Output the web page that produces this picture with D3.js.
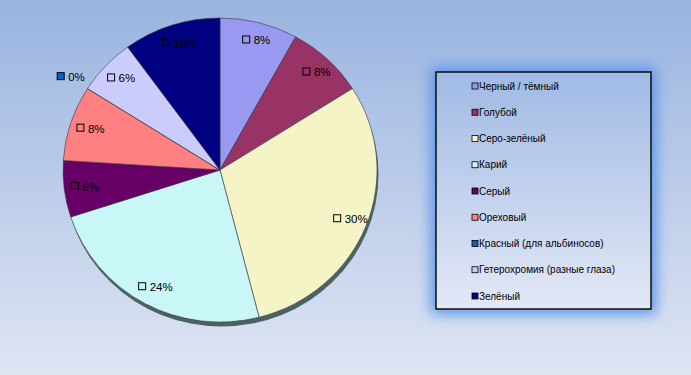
<!DOCTYPE html>
<html>
<head>
<meta charset="utf-8">
<script src="https://cdn.jsdelivr.net/npm/d3@7/dist/d3.min.js"></script>
<style>
  html, body { margin: 0; padding: 0; }
  svg { display: block; font-family: Arial, "Liberation Sans", sans-serif; }
</style>
</head>
<body>
<svg id="chart" width="691" height="375"></svg>
<script>
// eye colour survey, share of answers in %
const categories = [
  'Черный / тёмный',
  'Голубой',
  'Серо-зелёный',
  'Карий',
  'Серый',
  'Ореховый',
  'Красный (для альбиносов)',
  'Гетерохромия (разные глаза)',
  'Зелёный',
];
const values = [8, 8, 30, 24, 6, 8, 0, 6, 10];
const colors = ['#9999f2', '#993366', '#f4f4c6', '#c9f6f6', '#660066', '#ff8080', '#0066cc', '#ccccfa', '#000080'];

const svg = d3.select('#chart');
const W = 691, H = 375;
const defs = svg.append('defs');

const bg = defs.append('linearGradient').attr('id', 'bg').attr('x1', 0).attr('y1', 0).attr('x2', 0).attr('y2', 1);
bg.append('stop').attr('offset', 0).attr('stop-color', '#99b4e0');
bg.append('stop').attr('offset', 1).attr('stop-color', '#dfe5f3');

const lg = defs.append('linearGradient').attr('id', 'legbg').attr('x1', 0).attr('y1', 0).attr('x2', 0).attr('y2', 1);
lg.append('stop').attr('offset', 0).attr('stop-color', '#a0bae4');
lg.append('stop').attr('offset', 1).attr('stop-color', '#e3e8f5');

defs.append('filter').attr('id', 'glow').attr('x', -0.4).attr('y', -0.4).attr('width', 1.8).attr('height', 1.8)
  .append('feGaussianBlur').attr('stdDeviation', 7);

svg.append('rect').attr('width', W).attr('height', H).attr('fill', 'url(#bg)');

// pie
const cx = 220, cy = 170, rx = 157, ry = 152;
const pie = d3.pie().sort(null).value((d) => d.value);
const arcs = pie(categories.map((name, i) => ({ name, value: values[i], color: colors[i] })));
const arc = d3.arc().innerRadius(0).outerRadius(1);

const pieG = svg.append('g').attr('transform', `translate(${cx},${cy})`);

// drop shadow
pieG.append('ellipse')
  .attr('cx', 1.5).attr('cy', 4.5).attr('rx', rx).attr('ry', ry)
  .attr('fill', '#4c6262');

pieG.append('g')
  .attr('transform', `scale(${rx},${ry})`)
  .selectAll('path')
  .data(arcs)
  .join('path')
  .attr('d', arc)
  .attr('fill', (d) => d.data.color)
  .attr('stroke', '#3a3a4a')
  .attr('stroke-width', 0.6)
  .attr('vector-effect', 'non-scaling-stroke');

// data labels
const labelFor = (d) => {
  const mid = (d.startAngle + d.endAngle) / 2;
  const k = d.value === 0 ? 1.14 : 0.88;
  return [Math.sin(mid) * rx * k, -Math.cos(mid) * ry * k];
};

const labels = pieG.append('g')
  .selectAll('g')
  .data(arcs)
  .join('g')
  .attr('transform', (d) => {
    const [x, y] = labelFor(d);
    return `translate(${x},${y})`;
  });

labels.each(function (d) {
  const g = d3.select(this);
  const text = `${d.value}%`;
  const tw = text.length * 6.2;
  const total = 7 + 4 + tw;
  g.append('rect')
    .attr('x', -total / 2).attr('y', -4.5)
    .attr('width', 7).attr('height', 7)
    .attr('fill', d.data.color)
    .attr('stroke', '#000').attr('stroke-width', 1);
  g.append('text')
    .attr('x', -total / 2 + 11).attr('y', 4)
    .attr('font-size', 11.5)
    .attr('fill', '#000')
    .text(text);
});

// legend
const lx = 436, ly = 72, lw = 215, lh = 237;
svg.append('rect')
  .attr('x', lx - 5).attr('y', ly - 5).attr('width', lw + 10).attr('height', lh + 10)
  .attr('fill', '#5a94ea').attr('filter', 'url(#glow)');
svg.append('rect')
  .attr('x', lx).attr('y', ly).attr('width', lw).attr('height', lh)
  .attr('fill', 'url(#legbg)').attr('stroke', '#000').attr('stroke-width', 1.4);

const rowY = d3.scalePoint().domain(categories).range([ly + 14, ly + 224]);

const items = svg.append('g')
  .selectAll('g')
  .data(categories)
  .join('g')
  .attr('transform', (d) => `translate(${lx + 36},${rowY(d)})`);

items.append('rect')
  .attr('x', 0).attr('y', -3).attr('width', 6).attr('height', 6)
  .attr('fill', (d, i) => colors[i])
  .attr('stroke', '#000').attr('stroke-width', 0.8);

items.append('text')
  .attr('x', 7).attr('y', 3.6)
  .attr('font-size', 10)
  .attr('fill', '#000')
  .text((d) => d);
</script>
</body>
</html>
